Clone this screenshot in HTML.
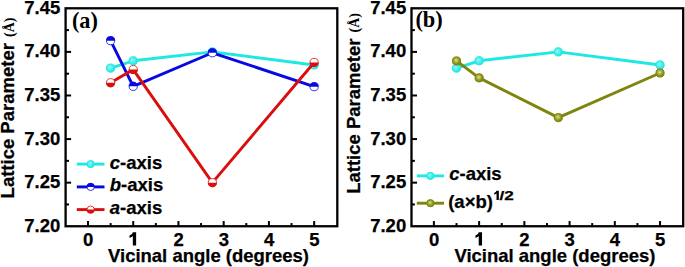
<!DOCTYPE html>
<html><head><meta charset="utf-8"><style>
html,body{margin:0;padding:0;background:#fff;}
svg{display:block;}
.t{font-family:"Liberation Sans",sans-serif;font-weight:bold;font-size:18.5px;fill:#000;stroke:#000;stroke-width:0.25px;}
.s{font-family:"Liberation Serif",serif;font-weight:bold;font-size:14px;fill:#000;}
.lab{font-family:"Liberation Serif",serif;font-weight:bold;font-size:23px;fill:#000;}
.sup{font-size:13px;}
</style></head><body>
<svg width="685" height="267" viewBox="0 0 685 267">
<defs>
<radialGradient id="gcy" cx="0.4" cy="0.4" r="0.6"><stop offset="0" stop-color="#8ff5f5"/><stop offset="1" stop-color="#1ee8e2"/></radialGradient>
<radialGradient id="gol" cx="0.45" cy="0.42" r="0.62"><stop offset="0" stop-color="#e0e0a0"/><stop offset="0.45" stop-color="#a0aa30"/><stop offset="1" stop-color="#6a7404"/></radialGradient>
</defs>
<rect x="65.6" y="8.3" width="271.70000000000005" height="217.95" fill="none" stroke="#000" stroke-width="2.3"/>
<line x1="65.6" y1="30.10" x2="69.0" y2="30.10" stroke="#000" stroke-width="2"/>
<line x1="65.6" y1="51.89" x2="71.1" y2="51.89" stroke="#000" stroke-width="2"/>
<line x1="65.6" y1="73.69" x2="69.0" y2="73.69" stroke="#000" stroke-width="2"/>
<line x1="65.6" y1="95.48" x2="71.1" y2="95.48" stroke="#000" stroke-width="2"/>
<line x1="65.6" y1="117.27" x2="69.0" y2="117.27" stroke="#000" stroke-width="2"/>
<line x1="65.6" y1="139.07" x2="71.1" y2="139.07" stroke="#000" stroke-width="2"/>
<line x1="65.6" y1="160.86" x2="69.0" y2="160.86" stroke="#000" stroke-width="2"/>
<line x1="65.6" y1="182.66" x2="71.1" y2="182.66" stroke="#000" stroke-width="2"/>
<line x1="65.6" y1="204.45" x2="69.0" y2="204.45" stroke="#000" stroke-width="2"/>
<line x1="88.00" y1="226.25" x2="88.00" y2="221.05" stroke="#000" stroke-width="2"/>
<line x1="110.61" y1="226.25" x2="110.61" y2="223.05" stroke="#000" stroke-width="2"/>
<line x1="133.23" y1="226.25" x2="133.23" y2="221.05" stroke="#000" stroke-width="2"/>
<line x1="155.84" y1="226.25" x2="155.84" y2="223.05" stroke="#000" stroke-width="2"/>
<line x1="178.46" y1="226.25" x2="178.46" y2="221.05" stroke="#000" stroke-width="2"/>
<line x1="201.07" y1="226.25" x2="201.07" y2="223.05" stroke="#000" stroke-width="2"/>
<line x1="223.69" y1="226.25" x2="223.69" y2="221.05" stroke="#000" stroke-width="2"/>
<line x1="246.30" y1="226.25" x2="246.30" y2="223.05" stroke="#000" stroke-width="2"/>
<line x1="268.92" y1="226.25" x2="268.92" y2="221.05" stroke="#000" stroke-width="2"/>
<line x1="291.53" y1="226.25" x2="291.53" y2="223.05" stroke="#000" stroke-width="2"/>
<line x1="314.15" y1="226.25" x2="314.15" y2="221.05" stroke="#000" stroke-width="2"/>
<text x="60.3" y="13.90" text-anchor="end" class="t">7.45</text>
<text x="60.3" y="57.49" text-anchor="end" class="t">7.40</text>
<text x="60.3" y="101.08" text-anchor="end" class="t">7.35</text>
<text x="60.3" y="144.67" text-anchor="end" class="t">7.30</text>
<text x="60.3" y="188.26" text-anchor="end" class="t">7.25</text>
<text x="60.3" y="231.85" text-anchor="end" class="t">7.20</text>
<text x="88.15" y="245.5" text-anchor="middle" class="t">0</text>
<path d="M132.83,232.30 L136.13,232.30 L136.13,245.50 L132.83,245.50 L132.83,236.20 L129.53,238.00 L129.53,235.60 L132.03,233.90 Z" fill="#000"/>
<text x="178.61" y="245.5" text-anchor="middle" class="t">2</text>
<text x="223.84" y="245.5" text-anchor="middle" class="t">3</text>
<text x="269.07" y="245.5" text-anchor="middle" class="t">4</text>
<text x="314.30" y="245.5" text-anchor="middle" class="t">5</text>
<text x="108.0" y="261.8" class="t" textLength="201" lengthAdjust="spacingAndGlyphs">Vicinal angle (degrees)</text>
<text transform="translate(13.6,198.4) rotate(-90)" class="t">Lattice Parameter</text>
<text transform="translate(13.5,37.0) rotate(-90)" class="s">(Å)</text>
<rect x="411.5" y="8.3" width="271.70000000000005" height="217.95" fill="none" stroke="#000" stroke-width="2.3"/>
<line x1="411.5" y1="30.10" x2="414.9" y2="30.10" stroke="#000" stroke-width="2"/>
<line x1="411.5" y1="51.89" x2="417.0" y2="51.89" stroke="#000" stroke-width="2"/>
<line x1="411.5" y1="73.69" x2="414.9" y2="73.69" stroke="#000" stroke-width="2"/>
<line x1="411.5" y1="95.48" x2="417.0" y2="95.48" stroke="#000" stroke-width="2"/>
<line x1="411.5" y1="117.27" x2="414.9" y2="117.27" stroke="#000" stroke-width="2"/>
<line x1="411.5" y1="139.07" x2="417.0" y2="139.07" stroke="#000" stroke-width="2"/>
<line x1="411.5" y1="160.86" x2="414.9" y2="160.86" stroke="#000" stroke-width="2"/>
<line x1="411.5" y1="182.66" x2="417.0" y2="182.66" stroke="#000" stroke-width="2"/>
<line x1="411.5" y1="204.45" x2="414.9" y2="204.45" stroke="#000" stroke-width="2"/>
<line x1="433.90" y1="226.25" x2="433.90" y2="221.05" stroke="#000" stroke-width="2"/>
<line x1="456.51" y1="226.25" x2="456.51" y2="223.05" stroke="#000" stroke-width="2"/>
<line x1="479.13" y1="226.25" x2="479.13" y2="221.05" stroke="#000" stroke-width="2"/>
<line x1="501.75" y1="226.25" x2="501.75" y2="223.05" stroke="#000" stroke-width="2"/>
<line x1="524.36" y1="226.25" x2="524.36" y2="221.05" stroke="#000" stroke-width="2"/>
<line x1="546.97" y1="226.25" x2="546.97" y2="223.05" stroke="#000" stroke-width="2"/>
<line x1="569.59" y1="226.25" x2="569.59" y2="221.05" stroke="#000" stroke-width="2"/>
<line x1="592.20" y1="226.25" x2="592.20" y2="223.05" stroke="#000" stroke-width="2"/>
<line x1="614.82" y1="226.25" x2="614.82" y2="221.05" stroke="#000" stroke-width="2"/>
<line x1="637.43" y1="226.25" x2="637.43" y2="223.05" stroke="#000" stroke-width="2"/>
<line x1="660.05" y1="226.25" x2="660.05" y2="221.05" stroke="#000" stroke-width="2"/>
<text x="406.2" y="13.90" text-anchor="end" class="t">7.45</text>
<text x="406.2" y="57.49" text-anchor="end" class="t">7.40</text>
<text x="406.2" y="101.08" text-anchor="end" class="t">7.35</text>
<text x="406.2" y="144.67" text-anchor="end" class="t">7.30</text>
<text x="406.2" y="188.26" text-anchor="end" class="t">7.25</text>
<text x="406.2" y="231.85" text-anchor="end" class="t">7.20</text>
<text x="434.05" y="245.5" text-anchor="middle" class="t">0</text>
<path d="M478.73,232.30 L482.03,232.30 L482.03,245.50 L478.73,245.50 L478.73,236.20 L475.43,238.00 L475.43,235.60 L477.93,233.90 Z" fill="#000"/>
<text x="524.51" y="245.5" text-anchor="middle" class="t">2</text>
<text x="569.74" y="245.5" text-anchor="middle" class="t">3</text>
<text x="614.97" y="245.5" text-anchor="middle" class="t">4</text>
<text x="660.20" y="245.5" text-anchor="middle" class="t">5</text>
<text x="454.4" y="262.1" class="t" textLength="201" lengthAdjust="spacingAndGlyphs">Vicinal angle (degrees)</text>
<text transform="translate(359.5,193.8) rotate(-90)" class="t">Lattice Parameter</text>
<text transform="translate(359.4,32.4) rotate(-90)" class="s">(Å)</text>
<text x="71.9" y="27.9" class="lab" textLength="26.0" lengthAdjust="spacingAndGlyphs">(a)</text>
<text x="415.4" y="27.3" class="lab" textLength="27.4" lengthAdjust="spacingAndGlyphs">(b)</text>
<polyline points="110.61,68.11 133.23,60.78 212.38,51.89 314.15,64.97" fill="none" stroke="#1ee8e2" stroke-width="2.9" stroke-linejoin="round" stroke-linecap="round"/>
<circle cx="110.61" cy="68.11" r="4.1" fill="url(#gcy)" stroke="#1ee8e2" stroke-width="1"/>
<circle cx="133.23" cy="60.78" r="4.1" fill="url(#gcy)" stroke="#1ee8e2" stroke-width="1"/>
<circle cx="212.38" cy="51.89" r="4.1" fill="url(#gcy)" stroke="#1ee8e2" stroke-width="1"/>
<circle cx="314.15" cy="64.97" r="4.1" fill="url(#gcy)" stroke="#1ee8e2" stroke-width="1"/>
<polyline points="110.61,40.64 133.23,86.33 212.38,52.76 314.15,86.67" fill="none" stroke="#0808e0" stroke-width="2.9" stroke-linejoin="round" stroke-linecap="round"/>
<circle cx="110.61" cy="40.64" r="4.1" fill="#fff" stroke="#0808e0" stroke-width="0.8"/>
<path d="M106.11,40.64 A4.5,4.5 0 0 1 115.11,40.64 Z" fill="#0808e0"/>
<circle cx="133.23" cy="86.33" r="4.1" fill="#fff" stroke="#0808e0" stroke-width="0.8"/>
<path d="M128.73,86.33 A4.5,4.5 0 0 1 137.73,86.33 Z" fill="#0808e0"/>
<circle cx="212.38" cy="52.76" r="4.1" fill="#fff" stroke="#0808e0" stroke-width="0.8"/>
<path d="M207.88,52.76 A4.5,4.5 0 0 1 216.88,52.76 Z" fill="#0808e0"/>
<circle cx="314.15" cy="86.67" r="4.1" fill="#fff" stroke="#0808e0" stroke-width="0.8"/>
<path d="M309.65,86.67 A4.5,4.5 0 0 1 318.65,86.67 Z" fill="#0808e0"/>
<polyline points="110.61,82.75 133.23,69.59 212.38,182.66 314.15,62.44" fill="none" stroke="#da0e0e" stroke-width="2.9" stroke-linejoin="round" stroke-linecap="round"/>
<circle cx="110.61" cy="82.75" r="4.1" fill="#fff" stroke="#da0e0e" stroke-width="0.8"/>
<path d="M106.11,82.75 A4.5,4.5 0 0 0 115.11,82.75 Z" fill="#da0e0e"/>
<circle cx="133.23" cy="69.59" r="4.1" fill="#fff" stroke="#da0e0e" stroke-width="0.8"/>
<path d="M128.73,69.59 A4.5,4.5 0 0 0 137.73,69.59 Z" fill="#da0e0e"/>
<circle cx="212.38" cy="182.66" r="4.1" fill="#fff" stroke="#da0e0e" stroke-width="0.8"/>
<path d="M207.88,182.66 A4.5,4.5 0 0 0 216.88,182.66 Z" fill="#da0e0e"/>
<circle cx="314.15" cy="62.44" r="4.1" fill="#fff" stroke="#da0e0e" stroke-width="0.8"/>
<path d="M309.65,62.44 A4.5,4.5 0 0 0 318.65,62.44 Z" fill="#da0e0e"/>
<polyline points="456.51,68.11 479.13,60.78 558.28,51.89 660.05,64.97" fill="none" stroke="#1ee8e2" stroke-width="2.9" stroke-linejoin="round" stroke-linecap="round"/>
<circle cx="456.51" cy="68.11" r="4.1" fill="url(#gcy)" stroke="#1ee8e2" stroke-width="1"/>
<circle cx="479.13" cy="60.78" r="4.1" fill="url(#gcy)" stroke="#1ee8e2" stroke-width="1"/>
<circle cx="558.28" cy="51.89" r="4.1" fill="url(#gcy)" stroke="#1ee8e2" stroke-width="1"/>
<circle cx="660.05" cy="64.97" r="4.1" fill="url(#gcy)" stroke="#1ee8e2" stroke-width="1"/>
<polyline points="456.51,60.96 479.13,77.87 558.28,117.62 660.05,72.99" fill="none" stroke="#7e840c" stroke-width="2.9" stroke-linejoin="round" stroke-linecap="round"/>
<circle cx="456.51" cy="60.96" r="4.1" fill="url(#gol)" stroke="#7e840c" stroke-width="1"/>
<circle cx="479.13" cy="77.87" r="4.1" fill="url(#gol)" stroke="#7e840c" stroke-width="1"/>
<circle cx="558.28" cy="117.62" r="4.1" fill="url(#gol)" stroke="#7e840c" stroke-width="1"/>
<circle cx="660.05" cy="72.99" r="4.1" fill="url(#gol)" stroke="#7e840c" stroke-width="1"/>
<line x1="76.8" y1="164.1" x2="104.5" y2="164.1" stroke="#1ee8e2" stroke-width="2.9"/>
<circle cx="90.65" cy="164.10" r="3.6" fill="url(#gcy)" stroke="#1ee8e2" stroke-width="1"/>
<text x="109.8" y="168.5" class="t"><tspan font-style="italic">c</tspan>-axis</text>
<line x1="76.8" y1="186.9" x2="104.5" y2="186.9" stroke="#0808e0" stroke-width="2.9"/>
<circle cx="90.65" cy="186.90" r="3.6" fill="#fff" stroke="#0808e0" stroke-width="0.8"/>
<path d="M86.65,186.90 A4.0,4.0 0 0 1 94.65,186.90 Z" fill="#0808e0"/>
<text x="109.8" y="191.3" class="t"><tspan font-style="italic">b</tspan>-axis</text>
<line x1="76.8" y1="209.6" x2="104.5" y2="209.6" stroke="#da0e0e" stroke-width="2.9"/>
<circle cx="90.65" cy="209.60" r="3.6" fill="#fff" stroke="#da0e0e" stroke-width="0.8"/>
<path d="M86.65,209.60 A4.0,4.0 0 0 0 94.65,209.60 Z" fill="#da0e0e"/>
<text x="109.8" y="214.0" class="t"><tspan font-style="italic">a</tspan>-axis</text>
<line x1="416.8" y1="175.9" x2="444.0" y2="175.9" stroke="#1ee8e2" stroke-width="2.9"/>
<circle cx="430.40" cy="175.90" r="3.6" fill="url(#gcy)" stroke="#1ee8e2" stroke-width="1"/>
<text x="449.2" y="179.8" class="t"><tspan font-style="italic">c</tspan>-axis</text>
<line x1="416.8" y1="203.2" x2="444.0" y2="203.2" stroke="#7e840c" stroke-width="2.9"/>
<circle cx="430.40" cy="203.20" r="3.6" fill="url(#gol)" stroke="#7e840c" stroke-width="1"/>
<text x="448.2" y="207.6" class="t">(a×b)</text>
<path d="M496.52,190.66 L498.83,190.66 L498.83,199.90 L496.52,199.90 L496.52,193.39 L494.21,194.65 L494.21,192.97 L495.96,191.78 Z" fill="#000"/>
<text x="499.5" y="199.9" class="t sup" textLength="14.3" lengthAdjust="spacingAndGlyphs">/2</text>
</svg>
</body></html>
